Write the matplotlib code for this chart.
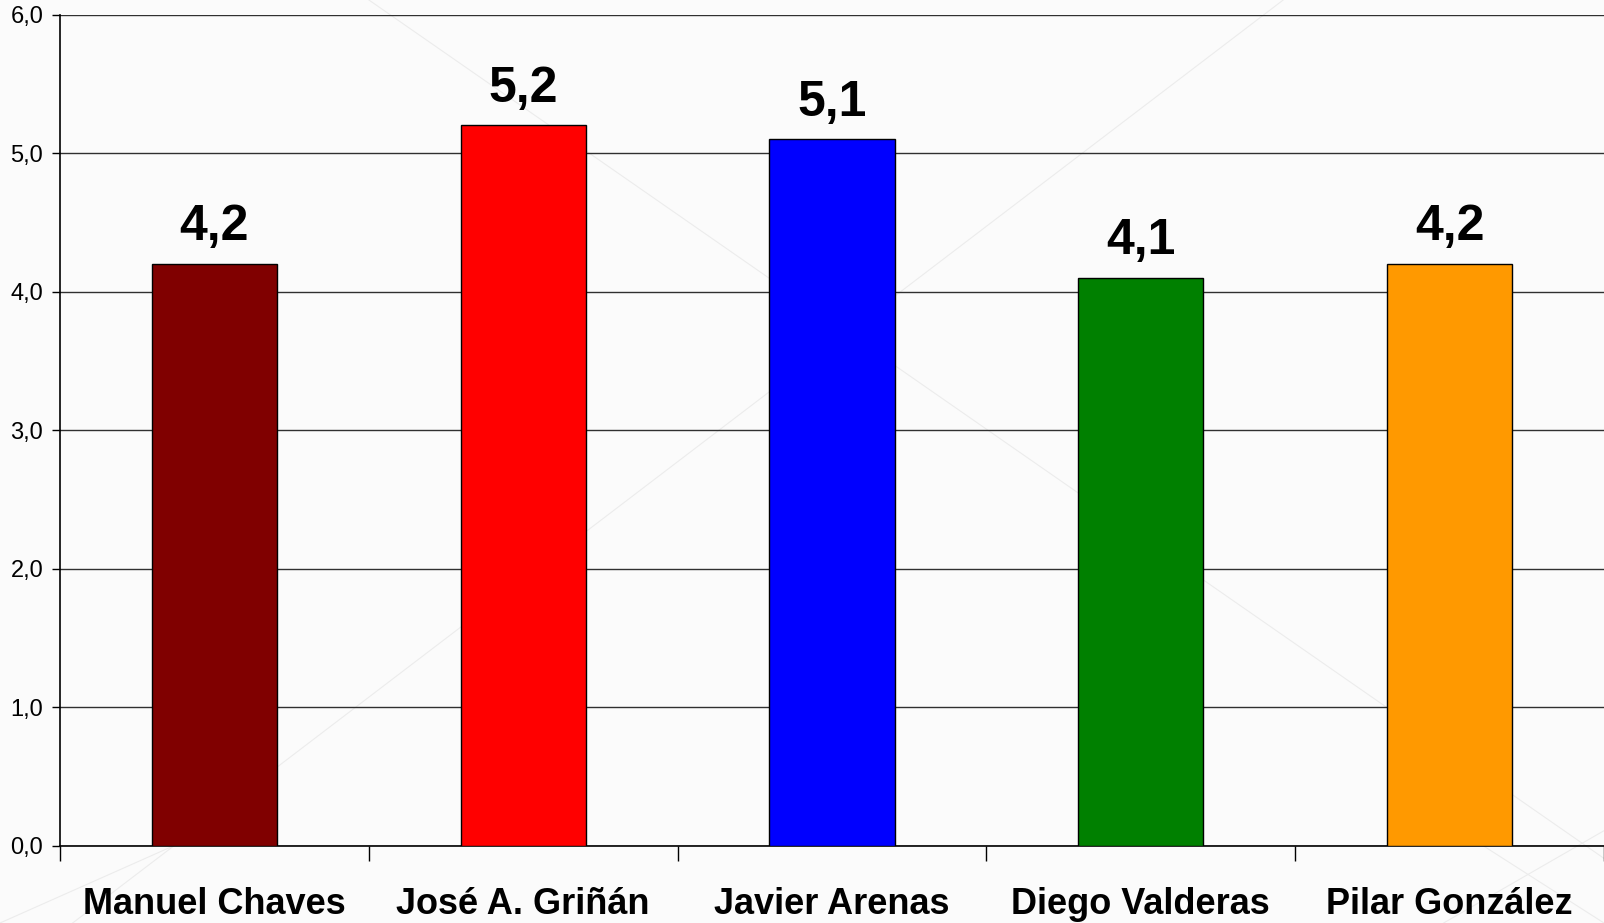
import matplotlib
matplotlib.use('Agg')
import matplotlib.pyplot as plt
from matplotlib.lines import Line2D
import numpy as np

names = ['Manuel Chaves', 'José A. Griñán', 'Javier Arenas', 'Diego Valderas', 'Pilar González']
scores = [4.2, 5.2, 5.1, 4.1, 4.2]
bar_colors = ['#800000', '#ff0000', '#0000ff', '#008000', '#ff9900']
yticks = [0, 1, 2, 3, 4, 5, 6]

plt.rcParams['font.family'] = ['Liberation Sans', 'DejaVu Sans']

fig = plt.figure(figsize=(16.04, 9.23), dpi=100, facecolor='#fbfbfb')

# faint diagonal watermark lines in the background
for (x0, y0, x1, y1) in [(0.23, 1.0, 1.0, 0.07), (0.80, 1.0, 0.0, -0.06),
                         (0.0, 0.0, 0.11, 0.085), (0.90, 0.0, 1.0, 0.10),
                         (0.91, 0.10, 1.0, 0.0)]:
    fig.add_artist(Line2D([x0, x1], [y0, y1], transform=fig.transFigure,
                          color='#ececec', lw=0.8, zorder=0))

ax = fig.add_axes([0.0374, 0.0837, 0.9626, 0.9004])
ax.set_facecolor('none')

x = np.arange(len(names))
ax.bar(x, scores, width=0.405, color=bar_colors, edgecolor='black', linewidth=1.0, zorder=3)

for xi, v in zip(x, scores):
    ax.annotate(f'{v:.1f}'.replace('.', ','), (xi, v), xytext=(0, 17),
                textcoords='offset points', ha='center', va='baseline',
                fontsize=36, fontweight='bold', zorder=4)

ax.set_xlim(-0.5, len(names) - 0.5)
ax.set_ylim(0, 6)
ax.set_yticks(yticks)
ax.set_yticklabels([f'{t:.1f}'.replace('.', ',') for t in yticks], fontsize=17)
ax.tick_params(axis='y', direction='out', length=6, width=1, pad=6)
ax.yaxis.grid(True, color='#303030', linewidth=1.0, zorder=1)

# category boundaries as major ticks, names on minor ticks
ax.set_xticks(np.arange(len(names) + 1) - 0.5)
ax.set_xticklabels([])
ax.tick_params(axis='x', which='major', direction='out', length=11, width=1)
ax.set_xticks(x, minor=True)
ax.set_xticklabels(names, minor=True, fontsize=26, fontweight='bold')
ax.tick_params(axis='x', which='minor', length=0, pad=30)

for side in ['top', 'right']:
    ax.spines[side].set_visible(False)
ax.spines['left'].set_linewidth(1.2)
ax.spines['bottom'].set_linewidth(1.2)

fig.savefig('out.png', dpi=100, facecolor=fig.get_facecolor())
